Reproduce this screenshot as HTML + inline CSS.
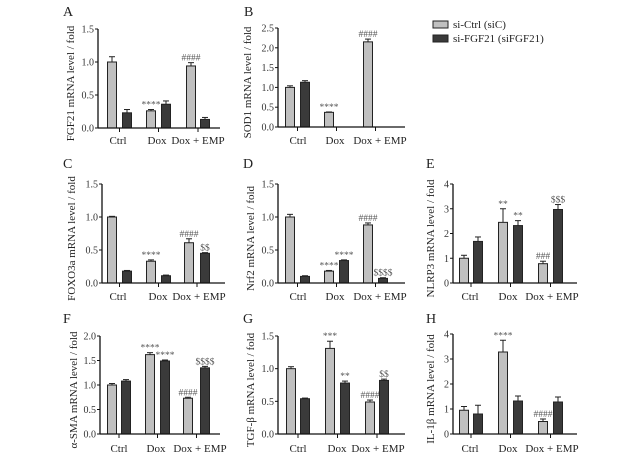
<!DOCTYPE html>
<html><head><meta charset="utf-8"><style>
html,body{margin:0;padding:0;background:#fff;}
svg{display:block;font-family:"Liberation Serif",serif;}
</style></head><body>
<svg id="fig" width="629" height="460" viewBox="0 0 629 460">
<g>
<rect x="433" y="21" width="15" height="7" fill="#c0c0c0" stroke="#222"/>
<text x="453" y="28" font-size="11" fill="#222">si-Ctrl (siC)</text>
<rect x="433" y="35" width="15" height="7" fill="#3a3a3a" stroke="#222"/>
<text x="453" y="42" font-size="11" fill="#222">si-FGF21 (siFGF21)</text>
</g>
</svg>
<script>
const categories = ["Ctrl","Dox","Dox + EMP"];
const panelNames = ["A","B","C","D","E","F","G","H"];
const titles = ["FGF21 mRNA level / fold","SOD1 mRNA level / fold","FOXO3a mRNA level / fold","Nrf2 mRNA level / fold","NLRP3 mRNA level / fold","α-SMA mRNA level / fold","TGF-β mRNA level / fold","IL-1β mRNA level / fold"];
const lightVals = [[1.0,0.26,0.94],[1.0,0.37,2.15],[1.0,0.33,0.61],[1.0,0.18,0.88],[1.0,2.45,0.78],[1.0,1.62,0.73],[1.0,1.31,0.49],[0.95,3.28,0.5]];
const lightErr  = [[0.08,0.02,0.05],[0.04,0.01,0.07],[0.01,0.02,0.06],[0.04,0.01,0.03],[0.12,0.55,0.1],[0.03,0.04,0.02],[0.03,0.11,0.03],[0.15,0.47,0.1]];
const darkVals  = [[0.23,0.36,0.13],[1.13,null,null],[0.18,0.11,0.45],[0.1,0.34,0.07],[1.68,2.32,2.97],[1.08,1.49,1.35],[0.54,0.78,0.82],[0.8,1.32,1.28]];
const darkErr   = [[0.05,0.05,0.03],[0.04,0,0],[0.01,0.01,0.01],[0.01,0.01,0.01],[0.18,0.2,0.2],[0.03,0.02,0.03],[0.01,0.03,0.02],[0.35,0.2,0.2]];
const annLight  = [["","****","####"],["","****","####"],["","****","####"],["","****","####"],["","**","###"],["","****","####"],["","***","####"],["","****","####"]];
const annDark   = [["","",""],["","",""],["","","$$"],["","****","$$$$"],["","**","$$$"],["","****","$$$$"],["","**","$$"],["","",""]];
const yMax = [1.5,2.5,1.5,1.5,4,2,1.5,4];
const yStep = [0.5,0.5,0.5,0.5,1,0.5,0.5,1];

// layout (pixels)
const layout = [
 {ax:98,yb:128,yt:29,xe:220,lx:[112,151,191],dx:[127,166,205],cx:[118,157,198],tx:74,ly:144,px:63,py:16},
 {ax:278,yb:127,yt:28,xe:405,lx:[290,329,368],dx:[305,344,383],cx:[298,335,380],tx:251,ly:144,px:244,py:16},
 {ax:102,yb:283,yt:184,xe:225,lx:[112,151,189],dx:[127,166,205],cx:[118,158,199],tx:75,ly:300,px:63,py:168},
 {ax:278,yb:283,yt:184,xe:405,lx:[290,329,368],dx:[305,344,383],cx:[298,335,380],tx:254,ly:300,px:243,py:168},
 {ax:453,yb:283,yt:184,xe:577,lx:[464,503,543],dx:[478,518,558],cx:[470,508,552],tx:434,ly:300,px:426,py:168},
 {ax:100,yb:434,yt:336,xe:220,lx:[112,150,188],dx:[126,165,205],cx:[119,156,200],tx:77,ly:452,px:63,py:323},
 {ax:278,yb:434,yt:336,xe:405,lx:[291,330,370],dx:[305,345,384],cx:[298,337,378],tx:254,ly:452,px:243,py:323},
 {ax:453,yb:434,yt:334,xe:577,lx:[464,503,543],dx:[478,518,558],cx:[470,508,552],tx:434,ly:452,px:426,py:323}
];
const NS="http://www.w3.org/2000/svg";
const svg=document.getElementById('fig');
function mk(tag,attrs,parent){const e=document.createElementNS(NS,tag);for(const k in attrs)e.setAttribute(k,attrs[k]);parent.appendChild(e);return e;}
const BW=9;
panelNames.forEach((pn,i)=>{
  const L=layout[i];
  const g=mk('g',{},svg);
  
  
  const y=v=>L.yb-(v/yMax[i])*(L.yb-L.yt);
  const letter=mk('text',{x:L.px,y:L.py,'font-size':14,fill:'#222'},g);letter.textContent=pn;
  
  
  const t=mk('text',{x:0,y:0,'font-size':11,fill:'#222','text-anchor':'middle',transform:`translate(${L.tx},${(L.yb+L.yt)/2+5}) rotate(-90)`},g);
  t.textContent=titles[i];
  
  
  const drawBar=(x,v,e,fill,ann,nm)=>{
    if(v===null)return;
    const top=y(v), et=y(v+e);
    mk('line',{x1:x,x2:x,y1:top,y2:et,stroke:'#222','stroke-width':1},g);
    mk('line',{x1:x-3,x2:x+3,y1:et,y2:et,stroke:'#222','stroke-width':1},g);
    const r=mk('rect',{x:x-BW/2,y:top,width:BW,height:L.yb-top,fill:fill,stroke:'#222','stroke-width':1},g);
    
    
    if(ann){const a=mk('text',{x:x,y:et-2,'font-size':9.5,fill:'#555','text-anchor':'middle'},g);a.textContent=ann;
      
      }
  };
  categories.forEach((c,j)=>{
    drawBar(L.lx[j],lightVals[i][j],lightErr[i][j],'#c0c0c0',annLight[i][j],'bar-sictrl-'+j);
    drawBar(L.dx[j],darkVals[i][j],darkErr[i][j],'#3a3a3a',annDark[i][j],'bar-sifgf21-'+j);
    const cl=mk('text',{x:L.cx[j],y:L.ly,'font-size':11,fill:'#222','text-anchor':'middle'},g);cl.textContent=c;
    
    
  });
  mk('line',{x1:L.ax,x2:L.ax,y1:L.yt,y2:L.yb,stroke:'#111','stroke-width':1.3},g);
  mk('line',{x1:L.ax,x2:L.xe,y1:L.yb,y2:L.yb,stroke:'#111','stroke-width':1.3},g);
  const dec=yStep[i]<1?1:0;
  for(let v=0;v<=yMax[i]+1e-9;v+=yStep[i]){
    const yy=y(v);
    mk('line',{x1:L.ax-3,x2:L.ax,y1:yy,y2:yy,stroke:'#111','stroke-width':1},g);
    const tl=mk('text',{x:L.ax-4,y:yy+3.5,'font-size':10,fill:'#333','text-anchor':'end'},g);tl.textContent=v.toFixed(dec);
    
    
  }
  categories.forEach((c,j)=>{
    const cx=(L.lx[j]+L.dx[j])/2;
    mk('line',{x1:cx,x2:cx,y1:L.yb,y2:L.yb+4,stroke:'#111','stroke-width':1},g);
  });
});
</script>
</body></html>
